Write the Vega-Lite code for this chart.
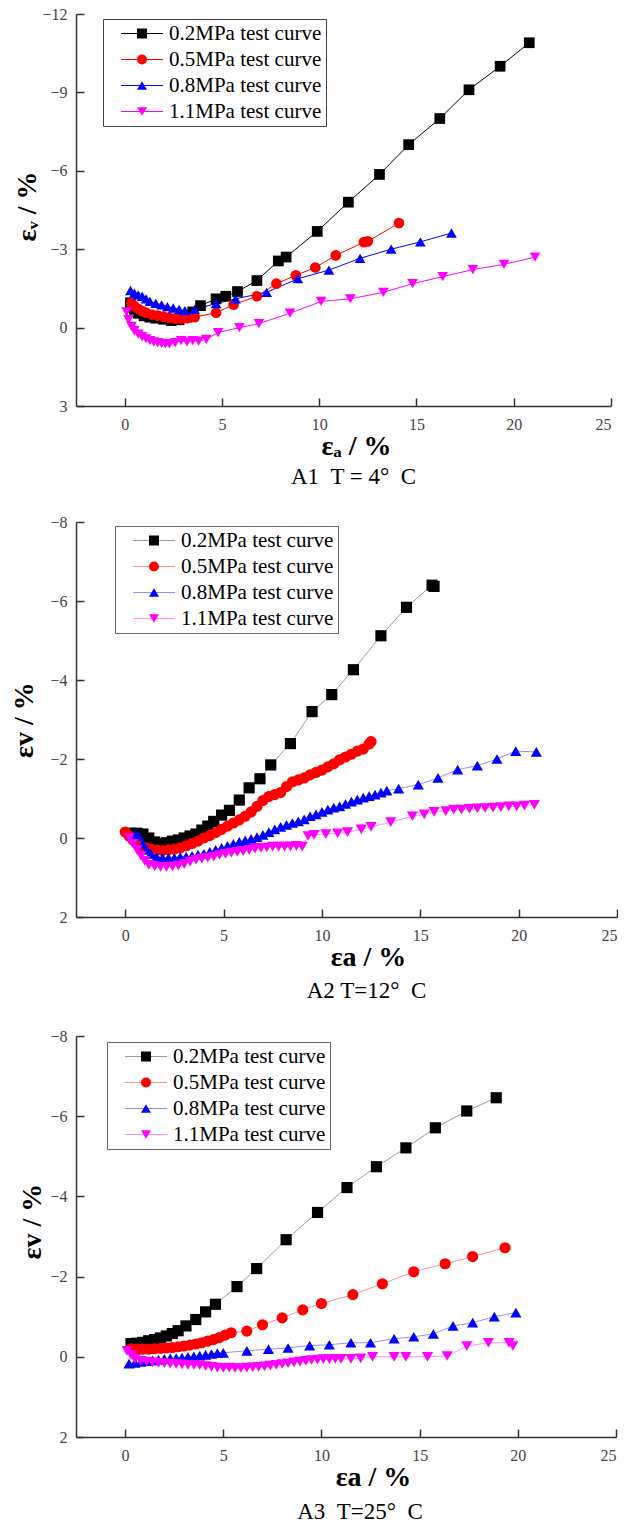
{
  "$schema": "https://vega.github.io/schema/vega-lite/v6.json",
  "background": "white",
  "padding": {"left": 10, "top": 6, "right": 0, "bottom": 0},
  "spacing": 25,
  "align": "none",
  "datasets": {
    "a1": [
      {"s":"0.2","x":0.3,"y":-0.95},{"s":"0.2","x":0.5,"y":-0.7},{"s":"0.2","x":0.7,"y":-0.55},{"s":"0.2","x":1.0,"y":-0.45},{"s":"0.2","x":1.3,"y":-0.4},{"s":"0.2","x":1.6,"y":-0.36},{"s":"0.2","x":2.0,"y":-0.32},{"s":"0.2","x":2.4,"y":-0.27},{"s":"0.2","x":2.8,"y":-0.3},{"s":"0.2","x":3.2,"y":-0.4},{"s":"0.2","x":3.5,"y":-0.6},{"s":"0.2","x":3.9,"y":-0.84},{"s":"0.2","x":4.7,"y":-1.1},{"s":"0.2","x":5.2,"y":-1.2},{"s":"0.2","x":5.8,"y":-1.38},{"s":"0.2","x":6.8,"y":-1.8},{"s":"0.2","x":7.9,"y":-2.55},{"s":"0.2","x":8.3,"y":-2.7},{"s":"0.2","x":9.9,"y":-3.68},{"s":"0.2","x":11.5,"y":-4.8},{"s":"0.2","x":13.1,"y":-5.86},{"s":"0.2","x":14.6,"y":-7.0},{"s":"0.2","x":16.2,"y":-8.0},{"s":"0.2","x":17.7,"y":-9.1},{"s":"0.2","x":19.3,"y":-10.0},{"s":"0.2","x":20.8,"y":-10.9},
      {"s":"0.5","x":0.35,"y":-0.95},{"s":"0.5","x":0.5,"y":-0.82},{"s":"0.5","x":0.7,"y":-0.72},{"s":"0.5","x":0.9,"y":-0.63},{"s":"0.5","x":1.1,"y":-0.57},{"s":"0.5","x":1.4,"y":-0.5},{"s":"0.5","x":1.7,"y":-0.46},{"s":"0.5","x":2.0,"y":-0.42},{"s":"0.5","x":2.3,"y":-0.38},{"s":"0.5","x":2.6,"y":-0.34},{"s":"0.5","x":2.9,"y":-0.33},{"s":"0.5","x":3.2,"y":-0.36},{"s":"0.5","x":3.6,"y":-0.4},{"s":"0.5","x":4.7,"y":-0.57},{"s":"0.5","x":5.6,"y":-0.88},{"s":"0.5","x":6.8,"y":-1.2},{"s":"0.5","x":7.8,"y":-1.68},{"s":"0.5","x":8.8,"y":-2.0},{"s":"0.5","x":9.8,"y":-2.3},{"s":"0.5","x":10.85,"y":-2.76},{"s":"0.5","x":12.3,"y":-3.27},{"s":"0.5","x":12.5,"y":-3.3},{"s":"0.5","x":14.1,"y":-4.0},
      {"s":"0.8","x":0.3,"y":-1.42},{"s":"0.8","x":0.5,"y":-1.32},{"s":"0.8","x":0.7,"y":-1.25},{"s":"0.8","x":0.9,"y":-1.2},{"s":"0.8","x":1.1,"y":-1.1},{"s":"0.8","x":1.3,"y":-1.0},{"s":"0.8","x":1.6,"y":-0.93},{"s":"0.8","x":1.9,"y":-0.87},{"s":"0.8","x":2.2,"y":-0.8},{"s":"0.8","x":2.5,"y":-0.75},{"s":"0.8","x":2.8,"y":-0.7},{"s":"0.8","x":3.1,"y":-0.65},{"s":"0.8","x":3.6,"y":-0.7},{"s":"0.8","x":4.7,"y":-0.92},{"s":"0.8","x":5.7,"y":-1.1},{"s":"0.8","x":7.3,"y":-1.35},{"s":"0.8","x":8.9,"y":-1.87},{"s":"0.8","x":10.5,"y":-2.2},{"s":"0.8","x":12.1,"y":-2.65},{"s":"0.8","x":13.7,"y":-3.0},{"s":"0.8","x":15.2,"y":-3.28},{"s":"0.8","x":16.8,"y":-3.62},
      {"s":"1.1","x":0.1,"y":-0.6},{"s":"1.1","x":0.2,"y":-0.3},{"s":"1.1","x":0.35,"y":-0.05},{"s":"1.1","x":0.5,"y":0.12},{"s":"1.1","x":0.7,"y":0.25},{"s":"1.1","x":0.9,"y":0.35},{"s":"1.1","x":1.1,"y":0.43},{"s":"1.1","x":1.3,"y":0.5},{"s":"1.1","x":1.5,"y":0.55},{"s":"1.1","x":1.7,"y":0.58},{"s":"1.1","x":1.9,"y":0.6},{"s":"1.1","x":2.1,"y":0.62},{"s":"1.1","x":2.3,"y":0.62},{"s":"1.1","x":2.6,"y":0.58},{"s":"1.1","x":2.9,"y":0.5},{"s":"1.1","x":3.2,"y":0.55},{"s":"1.1","x":3.5,"y":0.5},{"s":"1.1","x":3.8,"y":0.52},{"s":"1.1","x":4.2,"y":0.45},{"s":"1.1","x":4.8,"y":0.19},{"s":"1.1","x":5.9,"y":0.0},{"s":"1.1","x":6.9,"y":-0.15},{"s":"1.1","x":8.5,"y":-0.55},{"s":"1.1","x":10.1,"y":-1.0},{"s":"1.1","x":11.6,"y":-1.1},{"s":"1.1","x":13.3,"y":-1.35},{"s":"1.1","x":14.8,"y":-1.68},{"s":"1.1","x":16.35,"y":-1.95},{"s":"1.1","x":17.9,"y":-2.22},{"s":"1.1","x":19.5,"y":-2.42},{"s":"1.1","x":21.1,"y":-2.7}
    ],
    "a2": [
      {"s":"0.2","x":0.3,"y":-0.12},{"s":"0.2","x":0.6,"y":-0.12},{"s":"0.2","x":0.9,"y":-0.1},{"s":"0.2","x":1.2,"y":0.0},{"s":"0.2","x":1.5,"y":0.1},{"s":"0.2","x":1.8,"y":0.15},{"s":"0.2","x":2.1,"y":0.12},{"s":"0.2","x":2.4,"y":0.08},{"s":"0.2","x":2.7,"y":0.05},{"s":"0.2","x":3.0,"y":0.0},{"s":"0.2","x":3.3,"y":-0.05},{"s":"0.2","x":3.6,"y":-0.1},{"s":"0.2","x":3.9,"y":-0.2},{"s":"0.2","x":4.2,"y":-0.3},{"s":"0.2","x":4.5,"y":-0.42},{"s":"0.2","x":4.9,"y":-0.58},{"s":"0.2","x":5.3,"y":-0.7},{"s":"0.2","x":5.8,"y":-0.96},{"s":"0.2","x":6.3,"y":-1.27},{"s":"0.2","x":6.85,"y":-1.5},{"s":"0.2","x":7.4,"y":-1.85},{"s":"0.2","x":8.4,"y":-2.39},{"s":"0.2","x":9.5,"y":-3.2},{"s":"0.2","x":10.5,"y":-3.63},{"s":"0.2","x":11.6,"y":-4.26},{"s":"0.2","x":13.0,"y":-5.12},{"s":"0.2","x":14.3,"y":-5.84},{"s":"0.2","x":15.6,"y":-6.4},{"s":"0.2","x":15.7,"y":-6.37},
      {"s":"0.5","x":0.0,"y":-0.15},{"s":"0.5","x":0.2,"y":-0.05},{"s":"0.5","x":0.4,"y":0.05},{"s":"0.5","x":0.6,"y":0.12},{"s":"0.5","x":0.8,"y":0.2},{"s":"0.5","x":1.0,"y":0.24},{"s":"0.5","x":1.3,"y":0.28},{"s":"0.5","x":1.6,"y":0.3},{"s":"0.5","x":1.9,"y":0.32},{"s":"0.5","x":2.2,"y":0.3},{"s":"0.5","x":2.5,"y":0.28},{"s":"0.5","x":2.8,"y":0.25},{"s":"0.5","x":3.1,"y":0.2},{"s":"0.5","x":3.4,"y":0.14},{"s":"0.5","x":3.7,"y":0.08},{"s":"0.5","x":4.0,"y":0.0},{"s":"0.5","x":4.3,"y":-0.06},{"s":"0.5","x":4.6,"y":-0.14},{"s":"0.5","x":4.9,"y":-0.22},{"s":"0.5","x":5.2,"y":-0.3},{"s":"0.5","x":5.5,"y":-0.38},{"s":"0.5","x":5.8,"y":-0.46},{"s":"0.5","x":6.1,"y":-0.55},{"s":"0.5","x":6.4,"y":-0.66},{"s":"0.5","x":6.7,"y":-0.8},{"s":"0.5","x":7.0,"y":-0.95},{"s":"0.5","x":7.3,"y":-1.05},{"s":"0.5","x":7.6,"y":-1.1},{"s":"0.5","x":7.9,"y":-1.15},{"s":"0.5","x":8.2,"y":-1.3},{"s":"0.5","x":8.5,"y":-1.42},{"s":"0.5","x":8.8,"y":-1.47},{"s":"0.5","x":9.1,"y":-1.52},{"s":"0.5","x":9.4,"y":-1.6},{"s":"0.5","x":9.7,"y":-1.66},{"s":"0.5","x":10.0,"y":-1.72},{"s":"0.5","x":10.3,"y":-1.8},{"s":"0.5","x":10.6,"y":-1.88},{"s":"0.5","x":10.9,"y":-1.98},{"s":"0.5","x":11.2,"y":-2.05},{"s":"0.5","x":11.5,"y":-2.12},{"s":"0.5","x":11.8,"y":-2.2},{"s":"0.5","x":12.1,"y":-2.25},{"s":"0.5","x":12.4,"y":-2.38},{"s":"0.5","x":12.5,"y":-2.44},
      {"s":"0.8","x":0.5,"y":-0.1},{"s":"0.8","x":0.7,"y":-0.05},{"s":"0.8","x":0.9,"y":0.15},{"s":"0.8","x":1.1,"y":0.3},{"s":"0.8","x":1.3,"y":0.4},{"s":"0.8","x":1.6,"y":0.47},{"s":"0.8","x":1.9,"y":0.5},{"s":"0.8","x":2.2,"y":0.5},{"s":"0.8","x":2.5,"y":0.5},{"s":"0.8","x":2.8,"y":0.48},{"s":"0.8","x":3.1,"y":0.47},{"s":"0.8","x":3.4,"y":0.45},{"s":"0.8","x":3.7,"y":0.42},{"s":"0.8","x":4.0,"y":0.4},{"s":"0.8","x":4.3,"y":0.35},{"s":"0.8","x":4.6,"y":0.3},{"s":"0.8","x":4.9,"y":0.25},{"s":"0.8","x":5.2,"y":0.2},{"s":"0.8","x":5.5,"y":0.15},{"s":"0.8","x":5.8,"y":0.1},{"s":"0.8","x":6.1,"y":0.06},{"s":"0.8","x":6.4,"y":0.02},{"s":"0.8","x":6.7,"y":-0.02},{"s":"0.8","x":7.0,"y":-0.08},{"s":"0.8","x":7.3,"y":-0.15},{"s":"0.8","x":7.6,"y":-0.22},{"s":"0.8","x":7.9,"y":-0.28},{"s":"0.8","x":8.2,"y":-0.33},{"s":"0.8","x":8.5,"y":-0.38},{"s":"0.8","x":8.8,"y":-0.42},{"s":"0.8","x":9.1,"y":-0.47},{"s":"0.8","x":9.4,"y":-0.55},{"s":"0.8","x":9.7,"y":-0.6},{"s":"0.8","x":10.0,"y":-0.66},{"s":"0.8","x":10.3,"y":-0.72},{"s":"0.8","x":10.6,"y":-0.77},{"s":"0.8","x":10.9,"y":-0.8},{"s":"0.8","x":11.2,"y":-0.86},{"s":"0.8","x":11.5,"y":-0.92},{"s":"0.8","x":11.8,"y":-0.97},{"s":"0.8","x":12.1,"y":-1.02},{"s":"0.8","x":12.4,"y":-1.06},{"s":"0.8","x":12.7,"y":-1.1},{"s":"0.8","x":13.0,"y":-1.15},{"s":"0.8","x":13.3,"y":-1.2},{"s":"0.8","x":13.9,"y":-1.25},{"s":"0.8","x":14.9,"y":-1.35},{"s":"0.8","x":15.9,"y":-1.52},{"s":"0.8","x":16.9,"y":-1.73},{"s":"0.8","x":17.9,"y":-1.83},{"s":"0.8","x":18.9,"y":-2.0},{"s":"0.8","x":19.85,"y":-2.2},{"s":"0.8","x":20.9,"y":-2.18},
      {"s":"1.1","x":0.2,"y":0.0},{"s":"1.1","x":0.4,"y":0.15},{"s":"1.1","x":0.6,"y":0.3},{"s":"1.1","x":0.8,"y":0.45},{"s":"1.1","x":1.0,"y":0.58},{"s":"1.1","x":1.2,"y":0.68},{"s":"1.1","x":1.5,"y":0.72},{"s":"1.1","x":1.8,"y":0.73},{"s":"1.1","x":2.1,"y":0.73},{"s":"1.1","x":2.4,"y":0.72},{"s":"1.1","x":2.7,"y":0.7},{"s":"1.1","x":3.0,"y":0.66},{"s":"1.1","x":3.3,"y":0.6},{"s":"1.1","x":3.6,"y":0.55},{"s":"1.1","x":3.9,"y":0.52},{"s":"1.1","x":4.2,"y":0.5},{"s":"1.1","x":4.5,"y":0.47},{"s":"1.1","x":4.8,"y":0.43},{"s":"1.1","x":5.1,"y":0.4},{"s":"1.1","x":5.4,"y":0.37},{"s":"1.1","x":5.7,"y":0.35},{"s":"1.1","x":6.0,"y":0.33},{"s":"1.1","x":6.3,"y":0.3},{"s":"1.1","x":6.6,"y":0.27},{"s":"1.1","x":6.9,"y":0.25},{"s":"1.1","x":7.2,"y":0.24},{"s":"1.1","x":7.5,"y":0.22},{"s":"1.1","x":7.8,"y":0.22},{"s":"1.1","x":8.1,"y":0.22},{"s":"1.1","x":8.4,"y":0.21},{"s":"1.1","x":8.7,"y":0.2},{"s":"1.1","x":9.0,"y":0.22},{"s":"1.1","x":9.3,"y":-0.05},{"s":"1.1","x":9.6,"y":-0.08},{"s":"1.1","x":10.2,"y":-0.1},{"s":"1.1","x":10.8,"y":-0.12},{"s":"1.1","x":11.3,"y":-0.15},{"s":"1.1","x":12.0,"y":-0.22},{"s":"1.1","x":12.5,"y":-0.28},{"s":"1.1","x":13.5,"y":-0.4},{"s":"1.1","x":14.6,"y":-0.55},{"s":"1.1","x":15.2,"y":-0.6},{"s":"1.1","x":15.7,"y":-0.66},{"s":"1.1","x":16.3,"y":-0.68},{"s":"1.1","x":16.7,"y":-0.72},{"s":"1.1","x":17.1,"y":-0.72},{"s":"1.1","x":17.5,"y":-0.74},{"s":"1.1","x":17.9,"y":-0.75},{"s":"1.1","x":18.3,"y":-0.76},{"s":"1.1","x":18.7,"y":-0.77},{"s":"1.1","x":19.1,"y":-0.78},{"s":"1.1","x":19.5,"y":-0.8},{"s":"1.1","x":19.9,"y":-0.8},{"s":"1.1","x":20.3,"y":-0.82},{"s":"1.1","x":20.8,"y":-0.84}
    ],
    "a3": [
      {"s":"0.2","x":0.3,"y":-0.33},{"s":"0.2","x":0.6,"y":-0.34},{"s":"0.2","x":0.9,"y":-0.36},{"s":"0.2","x":1.2,"y":-0.4},{"s":"0.2","x":1.5,"y":-0.43},{"s":"0.2","x":1.8,"y":-0.47},{"s":"0.2","x":2.1,"y":-0.52},{"s":"0.2","x":2.4,"y":-0.58},{"s":"0.2","x":2.7,"y":-0.65},{"s":"0.2","x":3.1,"y":-0.77},{"s":"0.2","x":3.6,"y":-0.93},{"s":"0.2","x":4.1,"y":-1.12},{"s":"0.2","x":4.6,"y":-1.31},{"s":"0.2","x":5.7,"y":-1.75},{"s":"0.2","x":6.7,"y":-2.2},{"s":"0.2","x":8.2,"y":-2.92},{"s":"0.2","x":9.8,"y":-3.6},{"s":"0.2","x":11.3,"y":-4.22},{"s":"0.2","x":12.8,"y":-4.74},{"s":"0.2","x":14.3,"y":-5.21},{"s":"0.2","x":15.8,"y":-5.71},{"s":"0.2","x":17.4,"y":-6.13},{"s":"0.2","x":18.9,"y":-6.46},
      {"s":"0.5","x":0.3,"y":-0.2},{"s":"0.5","x":0.6,"y":-0.19},{"s":"0.5","x":0.9,"y":-0.19},{"s":"0.5","x":1.2,"y":-0.19},{"s":"0.5","x":1.5,"y":-0.2},{"s":"0.5","x":1.8,"y":-0.21},{"s":"0.5","x":2.1,"y":-0.22},{"s":"0.5","x":2.4,"y":-0.23},{"s":"0.5","x":2.7,"y":-0.25},{"s":"0.5","x":3.0,"y":-0.27},{"s":"0.5","x":3.3,"y":-0.29},{"s":"0.5","x":3.6,"y":-0.32},{"s":"0.5","x":3.9,"y":-0.35},{"s":"0.5","x":4.2,"y":-0.39},{"s":"0.5","x":4.5,"y":-0.43},{"s":"0.5","x":4.8,"y":-0.48},{"s":"0.5","x":5.1,"y":-0.54},{"s":"0.5","x":5.4,"y":-0.6},{"s":"0.5","x":6.2,"y":-0.64},{"s":"0.5","x":7.0,"y":-0.8},{"s":"0.5","x":8.0,"y":-0.97},{"s":"0.5","x":9.05,"y":-1.17},{"s":"0.5","x":10.0,"y":-1.33},{"s":"0.5","x":11.6,"y":-1.55},{"s":"0.5","x":13.1,"y":-1.82},{"s":"0.5","x":14.7,"y":-2.12},{"s":"0.5","x":16.3,"y":-2.32},{"s":"0.5","x":17.7,"y":-2.5},{"s":"0.5","x":19.35,"y":-2.72},
      {"s":"0.8","x":0.2,"y":0.17},{"s":"0.8","x":0.5,"y":0.15},{"s":"0.8","x":0.8,"y":0.13},{"s":"0.8","x":1.1,"y":0.11},{"s":"0.8","x":1.4,"y":0.09},{"s":"0.8","x":1.7,"y":0.07},{"s":"0.8","x":2.0,"y":0.05},{"s":"0.8","x":2.3,"y":0.04},{"s":"0.8","x":2.6,"y":0.03},{"s":"0.8","x":2.9,"y":0.02},{"s":"0.8","x":3.2,"y":0.0},{"s":"0.8","x":3.5,"y":-0.01},{"s":"0.8","x":3.8,"y":-0.03},{"s":"0.8","x":4.1,"y":-0.05},{"s":"0.8","x":4.4,"y":-0.07},{"s":"0.8","x":4.7,"y":-0.09},{"s":"0.8","x":5.0,"y":-0.1},{"s":"0.8","x":6.2,"y":-0.15},{"s":"0.8","x":7.3,"y":-0.19},{"s":"0.8","x":8.3,"y":-0.22},{"s":"0.8","x":9.4,"y":-0.28},{"s":"0.8","x":10.4,"y":-0.3},{"s":"0.8","x":11.5,"y":-0.35},{"s":"0.8","x":12.5,"y":-0.35},{"s":"0.8","x":13.7,"y":-0.45},{"s":"0.8","x":14.7,"y":-0.5},{"s":"0.8","x":15.7,"y":-0.57},{"s":"0.8","x":16.7,"y":-0.77},{"s":"0.8","x":17.7,"y":-0.85},{"s":"0.8","x":18.8,"y":-1.0},{"s":"0.8","x":19.9,"y":-1.1},
      {"s":"1.1","x":0.1,"y":-0.15},{"s":"1.1","x":0.3,"y":-0.05},{"s":"1.1","x":0.5,"y":0.05},{"s":"1.1","x":0.8,"y":0.1},{"s":"1.1","x":1.1,"y":0.12},{"s":"1.1","x":1.4,"y":0.14},{"s":"1.1","x":1.7,"y":0.15},{"s":"1.1","x":2.0,"y":0.16},{"s":"1.1","x":2.3,"y":0.17},{"s":"1.1","x":2.6,"y":0.18},{"s":"1.1","x":2.9,"y":0.19},{"s":"1.1","x":3.2,"y":0.2},{"s":"1.1","x":3.5,"y":0.2},{"s":"1.1","x":3.8,"y":0.21},{"s":"1.1","x":4.1,"y":0.23},{"s":"1.1","x":4.4,"y":0.25},{"s":"1.1","x":4.7,"y":0.27},{"s":"1.1","x":5.0,"y":0.28},{"s":"1.1","x":5.3,"y":0.27},{"s":"1.1","x":5.6,"y":0.28},{"s":"1.1","x":5.9,"y":0.28},{"s":"1.1","x":6.2,"y":0.27},{"s":"1.1","x":6.5,"y":0.26},{"s":"1.1","x":6.8,"y":0.25},{"s":"1.1","x":7.1,"y":0.24},{"s":"1.1","x":7.4,"y":0.22},{"s":"1.1","x":7.7,"y":0.2},{"s":"1.1","x":8.0,"y":0.18},{"s":"1.1","x":8.3,"y":0.16},{"s":"1.1","x":8.6,"y":0.14},{"s":"1.1","x":8.9,"y":0.12},{"s":"1.1","x":9.2,"y":0.1},{"s":"1.1","x":9.5,"y":0.08},{"s":"1.1","x":9.8,"y":0.07},{"s":"1.1","x":10.1,"y":0.06},{"s":"1.1","x":10.4,"y":0.06},{"s":"1.1","x":10.7,"y":0.05},{"s":"1.1","x":11.0,"y":0.05},{"s":"1.1","x":11.5,"y":0.05},{"s":"1.1","x":12.0,"y":0.04},{"s":"1.1","x":12.6,"y":0.0},{"s":"1.1","x":13.7,"y":0.0},{"s":"1.1","x":14.3,"y":0.0},{"s":"1.1","x":15.4,"y":0.0},{"s":"1.1","x":16.4,"y":-0.02},{"s":"1.1","x":17.4,"y":-0.27},{"s":"1.1","x":18.5,"y":-0.35},{"s":"1.1","x":19.55,"y":-0.35},{"s":"1.1","x":19.75,"y":-0.27}
    ]
  },
  "vconcat": [
    {
      "width": 535, "height": 392,
      "data": {"name": "a1"},
      "title": {"text": "A1\u00a0\u00a0T = 4°\u00a0\u00a0C", "orient": "bottom", "dx": 10, "offset": 6},
      "encoding": {
        "x": {"field": "x", "type": "quantitative", "scale": {"domain": [-2.5, 25], "nice": false, "zero": false},
              "axis": {"values": [0, 5, 10, 15, 20, 25], "title": "εₐ / %", "titleX": 280}},
        "y": {"field": "y", "type": "quantitative", "scale": {"domain": [-12, 3], "nice": false, "zero": false, "reverse": true},
              "axis": {"values": [-12, -9, -6, -3, 0, 3], "title": "εᵥ / %", "titlePadding": 0, "titleY": 192}}
      },
      "layer": [
        {"mark": {"type": "line", "strokeWidth": 1},
         "encoding": {"stroke": {"field": "s", "type": "nominal",
           "scale": {"domain": ["0.2", "0.5", "0.8", "1.1", "z"], "range": ["#000000", "#ff0000", "#0000ff", "#ff00ff", "#ffffff"]},
           "legend": {"values": ["0.2", "0.5", "0.8", "1.1"], "legendX": 27, "legendY": 5, "symbolType": "M0.7,0H9.1", "symbolStrokeWidth": 1, "strokeColor": "#444444", "labelExpr": "datum.label + 'MPa test curve'"}}}},
        {"mark": {"type": "point", "filled": true, "size": 115, "opacity": 1},
         "encoding": {
           "fill": {"field": "s", "type": "nominal", "scale": {"domain": ["0.2", "0.5", "0.8", "1.1"], "range": ["#000000", "#ff0000", "#0000ff", "#ff00ff"]},
             "legend": {"legendX": 51.5, "legendY": 5, "strokeColor": "transparent", "labelExpr": "''"}},
           "shape": {"field": "s", "type": "nominal", "scale": {"domain": ["0.2", "0.5", "0.8", "1.1"], "range": ["square", "circle", "triangle-up", "triangle-down"]},
             "legend": {"legendX": 51.5, "legendY": 5, "strokeColor": "transparent", "labelExpr": "''"}}}}
      ]
    },
    {
      "width": 541, "height": 395,
      "data": {"name": "a2"},
      "title": {"text": "A2 T=12°\u00a0\u00a0C", "orient": "bottom", "dx": 20, "offset": 9},
      "encoding": {
        "x": {"field": "x", "type": "quantitative", "scale": {"domain": [-2.5, 25], "nice": false, "zero": false},
              "axis": {"values": [0, 5, 10, 15, 20, 25], "title": "εa / %", "titleX": 292}},
        "y": {"field": "y", "type": "quantitative", "scale": {"domain": [-8, 2], "nice": false, "zero": false, "reverse": true},
              "axis": {"values": [-8, -6, -4, -2, 0, 2], "title": "εv / %", "titlePadding": 11}}
      },
      "layer": [
        {"mark": {"type": "line", "strokeWidth": 1},
         "encoding": {"stroke": {"field": "s", "type": "nominal",
           "scale": {"domain": ["0.2", "0.5", "0.8", "1.1", "z"], "range": ["#999999", "#ff9090", "#9090ff", "#ff90ff", "#ffffff"]},
           "legend": {"values": ["0.2", "0.5", "0.8", "1.1"], "legendX": 39, "legendY": 4, "symbolType": "M0.7,0H9.1", "symbolStrokeWidth": 1, "strokeColor": "#666666", "labelExpr": "datum.label + 'MPa test curve'"}}}},
        {"mark": {"type": "point", "filled": true, "size": 125, "opacity": 1},
         "encoding": {
           "fill": {"field": "s", "type": "nominal", "scale": {"domain": ["0.2", "0.5", "0.8", "1.1"], "range": ["#000000", "#ff0000", "#0000ff", "#ff00ff"]},
             "legend": {"legendX": 63.5, "legendY": 4, "strokeColor": "transparent", "labelExpr": "''"}},
           "shape": {"field": "s", "type": "nominal", "scale": {"domain": ["0.2", "0.5", "0.8", "1.1"], "range": ["square", "circle", "triangle-up", "triangle-down"]},
             "legend": {"legendX": 63.5, "legendY": 4, "strokeColor": "transparent", "labelExpr": "''"}}}}
      ]
    },
    {
      "width": 540, "height": 401,
      "data": {"name": "a3"},
      "title": {"text": "A3\u00a0\u00a0T=25°\u00a0\u00a0C", "orient": "bottom", "dx": 14, "offset": 10},
      "encoding": {
        "x": {"field": "x", "type": "quantitative", "scale": {"domain": [-2.5, 25], "nice": false, "zero": false},
              "axis": {"values": [0, 5, 10, 15, 20, 25], "title": "εa / %", "titleX": 297}},
        "y": {"field": "y", "type": "quantitative", "scale": {"domain": [-8, 2], "nice": false, "zero": false, "reverse": true},
              "axis": {"values": [-8, -6, -4, -2, 0, 2], "title": "εv / %", "titlePadding": 3, "titleY": 185}}
      },
      "layer": [
        {"mark": {"type": "line", "strokeWidth": 1},
         "encoding": {"stroke": {"field": "s", "type": "nominal",
           "scale": {"domain": ["0.2", "0.5", "0.8", "1.1", "z"], "range": ["#999999", "#ff9090", "#9090ff", "#ff90ff", "#ffffff"]},
           "legend": {"values": ["0.2", "0.5", "0.8", "1.1"], "legendX": 31, "legendY": 6, "symbolType": "M0.7,0H9.1", "symbolStrokeWidth": 1, "strokeColor": "#666666", "labelExpr": "datum.label + 'MPa test curve'"}}}},
        {"mark": {"type": "point", "filled": true, "size": 125, "opacity": 1},
         "encoding": {
           "fill": {"field": "s", "type": "nominal", "scale": {"domain": ["0.2", "0.5", "0.8", "1.1"], "range": ["#000000", "#ff0000", "#0000ff", "#ff00ff"]},
             "legend": {"legendX": 55.5, "legendY": 6, "strokeColor": "transparent", "labelExpr": "''"}},
           "shape": {"field": "s", "type": "nominal", "scale": {"domain": ["0.2", "0.5", "0.8", "1.1"], "range": ["square", "circle", "triangle-up", "triangle-down"]},
             "legend": {"legendX": 55.5, "legendY": 6, "strokeColor": "transparent", "labelExpr": "''"}}}}
      ]
    }
  ],
  "resolve": {"scale": {"stroke": "independent", "fill": "independent", "shape": "independent", "x": "independent", "y": "independent"}, "legend": {"stroke": "independent", "fill": "independent", "shape": "independent"}},
  "config": {
    "view": {"stroke": null},
    "font": "Liberation Serif",
    "axis": {"grid": false, "domainColor": "#333333", "domainWidth": 1.5, "tickColor": "#333333", "tickWidth": 1.5, "tickSize": -8,
             "labelFont": "Liberation Serif", "labelFontSize": 16, "labelColor": "#444444",
             "titleFont": "Liberation Serif", "titleFontSize": 28, "titleFontWeight": "bold", "titleColor": "#000000"},
    "axisX": {"labelPadding": 18, "titlePadding": 0},
    "axisY": {"labelPadding": 17},
    "title": {"font": "Liberation Serif", "fontSize": 23, "fontWeight": "normal", "color": "#000000"},
    "legend": {
      "orient": "none", "title": null, "padding": 4, "rowPadding": 4, "symbolSize": 100, "labelOffset": 41,
      "labelFont": "Liberation Serif", "labelFontSize": 21, "labelColor": "#000000",
      "fillColor": "transparent"
    }
  }
}
